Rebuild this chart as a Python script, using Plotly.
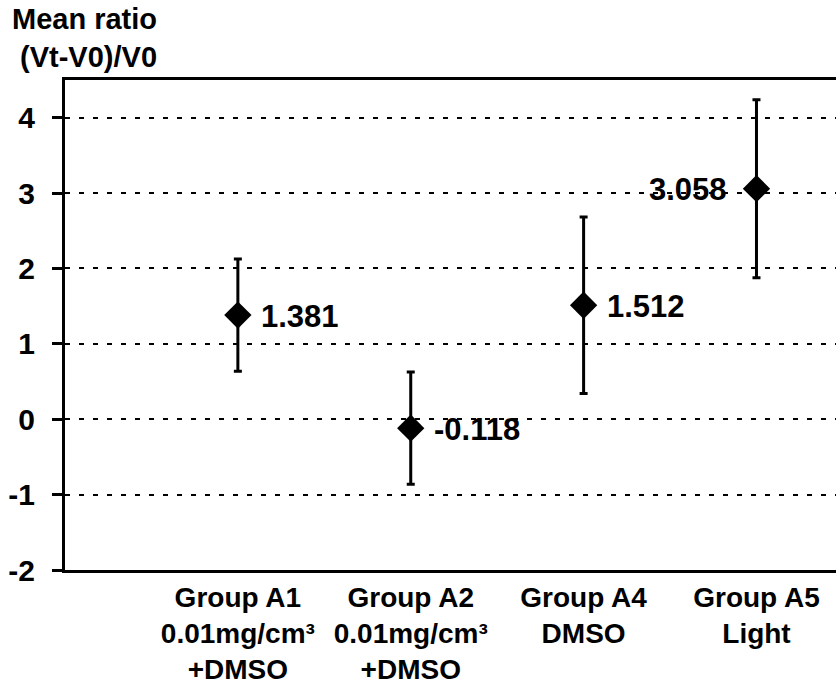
import plotly.graph_objects as go

categories = ["Group A1<br>0.01mg/cm³<br>+DMSO", "Group A2<br>0.01mg/cm³<br>+DMSO",
              "Group A4<br>DMSO", "Group A5<br>Light"]
means = [1.381, -0.118, 1.512, 3.058]
errors = [0.745, 0.745, 1.17, 1.18]
label_side = ["right", "right", "right", "left"]
y_ticks = [-2, -1, 0, 1, 2, 3, 4]
y_ticktext = ["-2", "-1", "0", "1", "2", "3", "4"]

FONT = "Liberation Sans, Arial, sans-serif"

fig = go.Figure()
fig.add_trace(go.Scatter(
    x=list(range(len(categories))), y=means,
    mode="markers",
    marker=dict(symbol="diamond", size=21, color="black"),
    error_y=dict(type="data", array=errors, visible=True, color="black",
                 thickness=3, width=4),
    showlegend=False,
))

for i, (m, side) in enumerate(zip(means, label_side)):
    fig.add_annotation(
        x=i, y=m, text=f"{m:.3f}", showarrow=False,
        xanchor="left" if side == "right" else "right",
        xshift=21 if side == "right" else -27, yshift=-1,
        font=dict(family=FONT, size=31, color="black", weight="bold"),
    )

fig.add_annotation(xref="paper", yref="paper", x=-0.071, y=1.162,
                   xanchor="left", yanchor="top", align="left",
                   text="Mean ratio<br> (Vt-V0)/V0",
                   showarrow=False,
                   font=dict(family=FONT, size=29, color="black", weight="bold"))

fig.update_layout(
    width=836, height=690,
    margin=dict(l=65, r=0, t=80, b=120),
    paper_bgcolor="white", plot_bgcolor="white",
    font=dict(family=FONT, color="black"),
)
fig.update_xaxes(
    tickmode="array", tickvals=list(range(len(categories))), ticktext=categories,
    range=[-1, 3.46], showgrid=False, zeroline=False,
    showline=True, linecolor="black", linewidth=3, mirror=True,
    ticks="", tickfont=dict(family=FONT, size=28, color="black", weight="bold"),
)
fig.update_yaxes(
    range=[-2, 4.5], tickmode="array", tickvals=y_ticks, ticktext=y_ticktext,
    showgrid=True, gridcolor="black", gridwidth=2, griddash="5px,9px",
    zeroline=False, showline=True, linecolor="black", linewidth=3,
    ticks="outside", ticklen=10, tickwidth=3, tickcolor="black",
    ticklabelstandoff=11,
    tickfont=dict(family=FONT, size=30, color="black", weight="bold"),
)

fig.write_html("out.html")
